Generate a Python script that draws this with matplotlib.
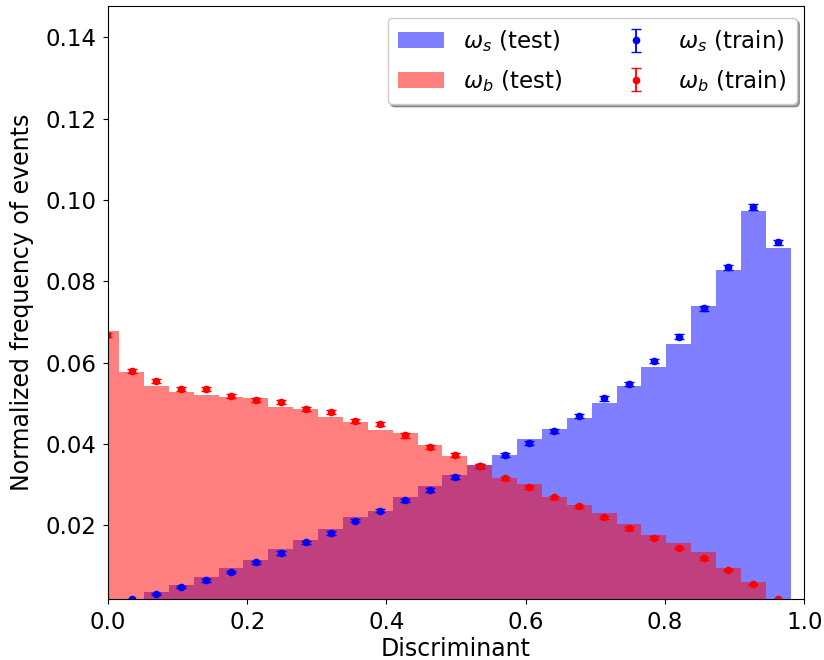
import numpy as np
import matplotlib
matplotlib.use("Agg")
import matplotlib.pyplot as plt

# Bin layout: 28 equal-width bins
bin_lo, bin_hi, n_bins = -0.0196, 0.9804, 28
edges = np.linspace(bin_lo, bin_hi, n_bins + 1)
centers = 0.5 * (edges[:-1] + edges[1:])

# Test histograms (normalized frequency)
sig_test = [0.0012, 0.0020, 0.0036, 0.0053, 0.0072, 0.0096, 0.0114, 0.0141,
            0.0165, 0.0191, 0.0220, 0.0236, 0.0269, 0.0298, 0.0324, 0.0349,
            0.0374, 0.0412, 0.0438, 0.0463, 0.0501, 0.0542, 0.0590, 0.0646,
            0.0740, 0.0827, 0.0973, 0.0881]
bkg_test = [0.0678, 0.0578, 0.0543, 0.0528, 0.0520, 0.0516, 0.0512, 0.0491,
            0.0485, 0.0467, 0.0454, 0.0434, 0.0426, 0.0397, 0.0370, 0.0349,
            0.0316, 0.0302, 0.0269, 0.0250, 0.0230, 0.0203, 0.0176, 0.0156,
            0.0135, 0.0096, 0.0062, 0.0015]

# Train points with errors
sig_train = [0.0010, 0.0018, 0.0032, 0.0049, 0.0065, 0.0086, 0.0109, 0.0132,
             0.0158, 0.0181, 0.0212, 0.0236, 0.0262, 0.0288, 0.0319, 0.0346,
             0.0374, 0.0402, 0.0431, 0.0469, 0.0512, 0.0547, 0.0604, 0.0664,
             0.0734, 0.0835, 0.0983, 0.0896]
bkg_train = [0.0668, 0.0580, 0.0555, 0.0535, 0.0535, 0.0519, 0.0509, 0.0504,
             0.0487, 0.0479, 0.0457, 0.0450, 0.0421, 0.0393, 0.0374, 0.0346,
             0.0316, 0.0294, 0.0269, 0.0247, 0.0220, 0.0193, 0.0170, 0.0144,
             0.0119, 0.0090, 0.0055, 0.0018]
sig_err = [0.0002, 0.0002, 0.0002, 0.0003, 0.0003, 0.0003, 0.0003, 0.0004,
           0.0004, 0.0004, 0.0004, 0.0004, 0.0004, 0.0005, 0.0005, 0.0005,
           0.0005, 0.0005, 0.0005, 0.0005, 0.0005, 0.0005, 0.0006, 0.0006,
           0.0006, 0.0006, 0.0007, 0.0006]
bkg_err = [0.0006, 0.0005, 0.0005, 0.0005, 0.0005, 0.0005, 0.0005, 0.0005,
           0.0005, 0.0005, 0.0005, 0.0005, 0.0005, 0.0005, 0.0005, 0.0005,
           0.0004, 0.0004, 0.0004, 0.0004, 0.0004, 0.0004, 0.0004, 0.0003,
           0.0003, 0.0003, 0.0002, 0.0001]

fig = plt.figure(figsize=(8.24, 6.6), dpi=100)
ax = fig.add_axes([0.131, 0.0924, 0.845, 0.8986])

ax.stairs(sig_test, edges, fill=True, color="blue", alpha=0.5, linewidth=0,
          label=r"$\omega_s$ (test)")
ax.stairs(bkg_test, edges, fill=True, color="red", alpha=0.5, linewidth=0,
          label=r"$\omega_b$ (test)")
ax.errorbar(centers, sig_train, yerr=sig_err, fmt="o", color="blue",
            markersize=4.5, capsize=3.5, elinewidth=1.3, label=r"$\omega_s$ (train)")
ax.errorbar(centers, bkg_train, yerr=bkg_err, fmt="o", color="red",
            markersize=4.5, capsize=3.5, elinewidth=1.3, label=r"$\omega_b$ (train)")

ax.set_xlim(0.0, 1.0)
ax.set_ylim(0.0019, 0.1477)
ax.set_yticks([0.02, 0.04, 0.06, 0.08, 0.10, 0.12, 0.14])
ax.set_xticks([0.0, 0.2, 0.4, 0.6, 0.8, 1.0])
ax.tick_params(labelsize=16.5, pad=5)
ax.set_xlabel("Discriminant", fontsize=17, labelpad=2)
ax.set_ylabel("Normalized frequency of events", fontsize=17, labelpad=8)

ax.legend(loc="upper right", ncol=2, fontsize=16.5, shadow=True, fancybox=True,
          framealpha=1.0, columnspacing=2.2, handletextpad=0.85,
          labelspacing=0.6, borderpad=0.45, borderaxespad=0.0,
          bbox_to_anchor=(0.989, 0.98))

fig.savefig("out.png", dpi=100)
